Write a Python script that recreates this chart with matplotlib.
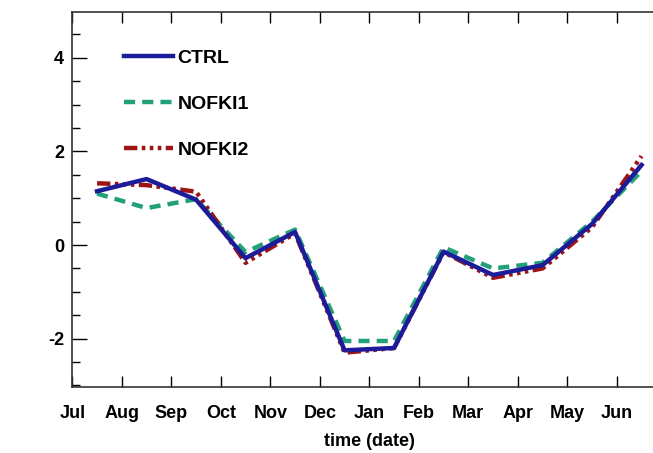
import numpy as np
import matplotlib
matplotlib.use("Agg")
import matplotlib.pyplot as plt
from matplotlib.ticker import MultipleLocator

plt.rcParams['font.family'] = ['Liberation Sans', 'DejaVu Sans']
plt.rcParams['font.weight'] = 'bold'
plt.rcParams['axes.unicode_minus'] = False

months = ["Jul", "Aug", "Sep", "Oct", "Nov", "Dec", "Jan", "Feb", "Mar", "Apr", "May", "Jun"]
t = np.arange(12) + 0.5

ctrl = [1.15, 1.41, 0.97, -0.28, 0.28, -2.25, -2.2, -0.14, -0.64, -0.43, 0.45, 1.71]
nofki1 = [1.1, 0.79, 0.98, -0.15, 0.33, -2.05, -2.05, -0.05, -0.5, -0.38, 0.5, 1.58]
nofki2 = [1.32, 1.28, 1.14, -0.38, 0.25, -2.3, -2.2, -0.15, -0.7, -0.5, 0.38, 1.9]

fig = plt.figure(figsize=(6.53, 4.53), dpi=100)
ax = fig.add_axes([72.3/653, 65.7/453, 594/653, 375.3/453])

ax.plot(t, nofki1, color="#22a07c", linestyle=(0, (2.5, 1.6)), linewidth=3.2, label="NOFKI1", zorder=2)
ax.plot(t, nofki2, color="#9c1414", linestyle=(0, (3, 1, 0.8, 1, 0.8, 1, 0.8, 1)), linewidth=3.2, label="NOFKI2", zorder=3)
ax.plot(t, ctrl, color="#1c1c9a", linewidth=3.2, label="CTRL", zorder=4)

ax.set_xlim(0, 12)
ax.set_ylim(-3.04, 4.98)
ax.set_xticks(np.arange(12))
ax.set_xticklabels(months)
ax.set_yticks([-2, 0, 2, 4])
ax.yaxis.set_minor_locator(MultipleLocator(0.5))
ax.tick_params(axis='x', direction='in', length=8, width=1, top=True, labelsize=13, pad=13)
ax.tick_params(axis='y', which='major', direction='in', length=11, width=1, labelsize=13, pad=6)
ax.tick_params(axis='y', which='minor', direction='in', length=6, width=1)
ax.spines['right'].set_visible(False)
for s in ax.spines.values():
    s.set_linewidth(1.2)
    s.set_color("#333333")
ax.set_xlabel("time (date)", fontsize=13, fontweight='bold', labelpad=8)

h, l = ax.get_legend_handles_labels()
order = [2, 0, 1]
ax.legend([h[i] for i in order], [l[i] for i in order], loc='upper left',
          bbox_to_anchor=(0.058, 0.947), frameon=False,
          handlelength=2.5, handletextpad=0.25, labelspacing=1.45,
          prop={'weight': 'bold', 'size': 14})

fig.savefig("out.png", dpi=100)
